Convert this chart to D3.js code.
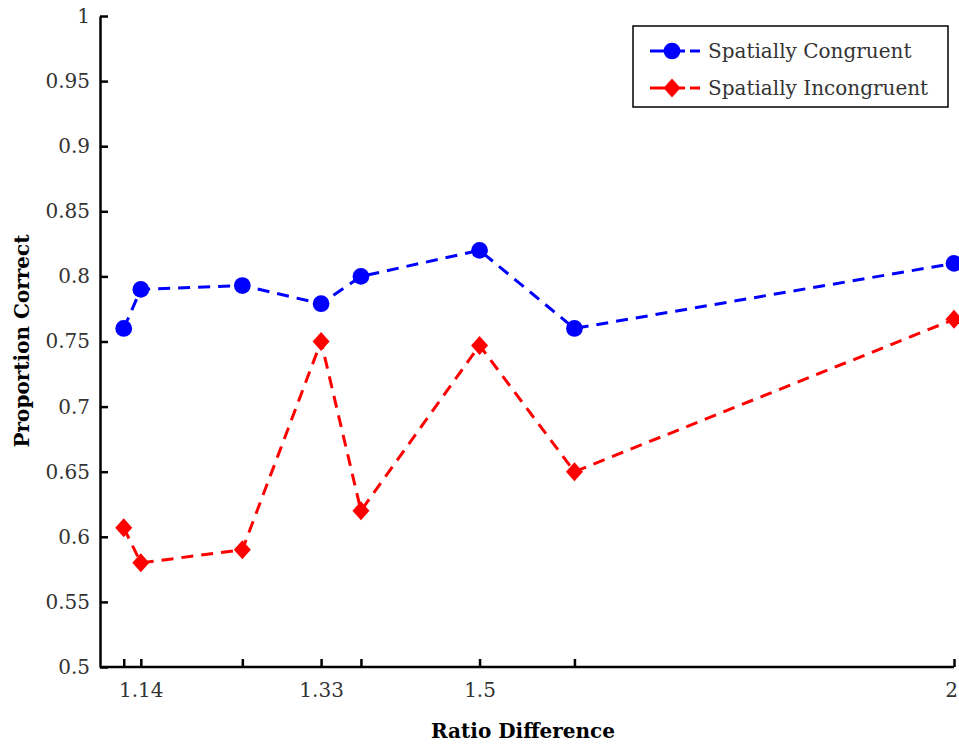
<!DOCTYPE html>
<html>
<head>
<meta charset="utf-8">
<script src="https://cdn.jsdelivr.net/npm/d3@7"></script>
<style>
  body { margin: 0; background: #fff; }
  svg { display: block; }
  .tick text { font-family: "DejaVu Serif", serif; font-size: 20px; fill: #333; }
</style>
</head>
<body>
<svg width="959" height="745"></svg>
<script>
// ratio differences (x) and proportion correct for each condition
const ratios = [1.125, 1.143, 1.25, 1.333, 1.375, 1.5, 1.6, 2];
const congruent = [0.76, 0.79, 0.793, 0.779, 0.80, 0.82, 0.76, 0.81];
const incongruent = [0.607, 0.58, 0.59, 0.75, 0.62, 0.747, 0.65, 0.767];
const labeledTicks = [1.143, 1.333, 1.5, 2];
const labelText = ["1.14", "1.33", "1.5", "2"];
const yTicks = [0.5, 0.55, 0.6, 0.65, 0.7, 0.75, 0.8, 0.85, 0.9, 0.95, 1];
const seriesNames = ["Spatially Congruent", "Spatially Incongruent"];

const svg = d3.select("svg");
const margin = { left: 100, right: 5, top: 16, bottom: 78 };
const width = 959, height = 745;

const x = d3.scaleLinear().domain([1.1, 2]).range([margin.left, width - margin.right]);
const y = d3.scaleLinear().domain([0.5, 1]).range([height - margin.bottom, margin.top]);

// wider matlab-like diamond
const diamond = {
  draw: function (ctx, size) {
    const w = 8.5, h = 9.5;
    ctx.moveTo(0, -h);
    ctx.lineTo(w, 0);
    ctx.lineTo(0, h);
    ctx.lineTo(-w, 0);
    ctx.closePath();
  }
};

// x axis, ticks pointing inward, labels only on a few
svg.append("g")
  .attr("transform", "translate(0," + y(0.5) + ")")
  .call(d3.axisBottom(x)
    .tickValues(ratios)
    .tickSizeInner(-8)
    .tickSizeOuter(0)
    .tickPadding(16)
    .tickFormat(function (d) {
      const i = labeledTicks.indexOf(d);
      return i >= 0 ? labelText[i] : "";
    }))
  .call(g => g.select(".domain").attr("stroke-width", 2.5).attr("d", "M" + x(1.1) + ",0H" + x(2)))
  .call(g => g.selectAll(".tick text").filter(d => d === 2).attr("dx", -3));

svg.append("g")
  .attr("transform", "translate(" + x(1.1) + ",0)")
  .call(d3.axisLeft(y)
    .tickValues(yTicks)
    .tickSizeInner(-8)
    .tickSizeOuter(0)
    .tickPadding(10)
    .tickFormat(d3.format("")))
  .call(g => g.select(".domain").attr("stroke-width", 2.5));

svg.selectAll(".tick line").attr("stroke-width", 2.5).attr("stroke", "#000");
svg.selectAll(".domain").attr("stroke", "#000");

// axis titles
svg.append("text")
  .attr("x", 523).attr("y", 738)
  .attr("text-anchor", "middle")
  .style("font-family", "DejaVu Serif, serif")
  .style("font-weight", "bold")
  .style("font-size", "20px")
  .text("Ratio Difference");

svg.append("text")
  .attr("transform", "translate(29,341) rotate(-90)")
  .attr("text-anchor", "middle")
  .style("font-family", "DejaVu Serif, serif")
  .style("font-weight", "bold")
  .style("font-size", "20px")
  .text("Proportion Correct");

const series = [
  { name: seriesNames[0], values: congruent, color: "#0000ff", shape: d3.symbolCircle },
  { name: seriesNames[1], values: incongruent, color: "#ff0000", shape: diamond }
];

const line = d3.line()
  .x((d, i) => x(ratios[i]))
  .y(d => y(d));

series.forEach(function (s) {
  svg.append("path")
    .datum(s.values)
    .attr("fill", "none")
    .attr("stroke", s.color)
    .attr("stroke-width", 3)
    .attr("stroke-dasharray", "12,8")
    .attr("d", line);

  svg.append("g")
    .selectAll("path")
    .data(s.values)
    .enter()
    .append("path")
    .attr("transform", (d, i) => "translate(" + x(ratios[i]) + "," + y(d) + ")")
    .attr("d", d3.symbol().type(s.shape).size(220))
    .attr("fill", s.color);
});

// legend
const legend = svg.append("g").attr("transform", "translate(633,26)");
legend.append("rect")
  .attr("width", 315).attr("height", 81)
  .attr("fill", "#fff").attr("stroke", "#000").attr("stroke-width", 1.5);

series.forEach(function (s, i) {
  const ly = 25 + i * 37;
  legend.append("line")
    .attr("x1", 17).attr("x2", 52).attr("y1", ly).attr("y2", ly)
    .attr("stroke", s.color).attr("stroke-width", 3);
  legend.append("line")
    .attr("x1", 57).attr("x2", 67).attr("y1", ly).attr("y2", ly)
    .attr("stroke", s.color).attr("stroke-width", 3);
  legend.append("path")
    .attr("transform", "translate(39," + ly + ")")
    .attr("d", d3.symbol().type(s.shape).size(220))
    .attr("fill", s.color);
  legend.append("text")
    .attr("x", 75).attr("y", ly + 7)
    .style("font-family", "DejaVu Serif, serif")
    .style("font-size", "20px")
    .attr("fill", "#333")
    .text(s.name);
});
</script>
</body>
</html>
